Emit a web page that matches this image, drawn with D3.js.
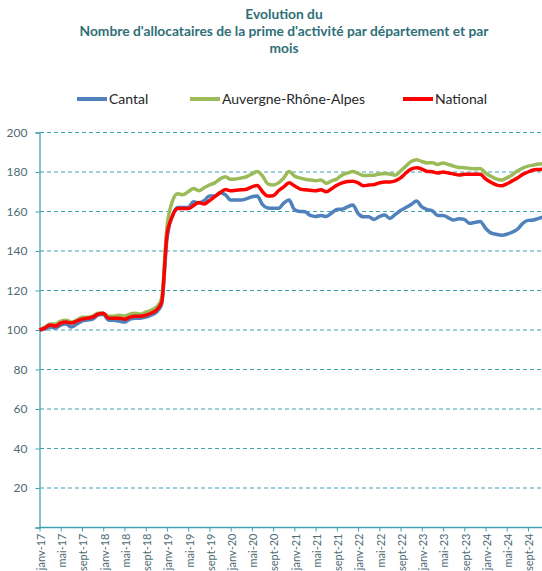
<!DOCTYPE html>
<html>
<head>
<meta charset="utf-8">
<script src="https://d3js.org/d3.v7.min.js"></script>
<style>
  body { margin: 0; background: #fff; }
  text { font-family: Lato, "Open Sans", sans-serif; }
</style>
</head>
<body>
<script>
  // months janv-17 .. déc-24
  var moisNoms = ["janv", "févr", "mars", "avr", "mai", "juin", "juil", "août", "sept", "oct", "nov", "déc"];
  var months = [];
  for (var a = 17; a <= 24; a++) {
    for (var m = 0; m < 12; m++) months.push(moisNoms[m] + "-" + a);
  }

  var cantal = [100, 100.5, 101.5, 101, 102.5, 103, 101.5, 103, 104.5, 105, 105.5, 107.5,
    108, 105, 105, 104.5, 104, 105.5, 106, 106, 106.5, 107.5, 109, 113,
    146, 157.5, 162, 162, 162, 165, 164.3, 165.5, 167.8, 167.8, 169.5, 168.5,
    165.8, 165.8, 165.8, 166.5, 167.5, 167.8, 163.5, 161.8, 161.6, 161.6, 164.3, 165.8,
    161, 160, 159.9, 158, 157.5, 158, 157.5, 159.2, 161, 161.2, 162.3, 163.3,
    159, 157.3, 157.4, 156, 157.4, 158.2, 156.5, 158.5, 160.5, 162, 163.5, 165.3,
    162.3, 161, 160.3, 158, 158, 156.8, 155.7, 156.3, 156, 154, 154.5, 155,
    151.5, 149.2, 148.5, 148, 148.5, 149.5, 151, 154, 155.5, 155.7, 156.5, 157.3];

  var ara = [100, 101.5, 103, 103, 104.5, 105, 104, 105, 106.5, 106.5, 107, 108.5,
    108.5, 107, 107, 107.5, 107, 108, 108.5, 108, 109, 110, 111.5, 116,
    152, 165, 169, 168.5, 170, 171.7, 170.5, 172, 173.4, 174.5, 176.5, 177.6,
    176.3, 176.5, 177, 177.6, 179, 180.3, 178, 174, 173.4, 174.5, 177, 180.2,
    178, 177, 176.3, 176, 175.6, 175.9, 174.3, 175.5, 176.5, 178.5, 179.5, 180.2,
    179.3, 178.2, 178.3, 178.4, 179, 179.3, 179, 178.4, 180.5, 183, 185.3, 186.2,
    185.3, 184.6, 184.7, 183.8, 184.6, 183.8, 183, 182.3, 182.2, 181.8, 181.6, 181.8,
    179.5, 177.8, 176.5, 175.9, 177, 178.5, 180.5, 182, 183, 183.5, 184, 184.2];

  var national = [100, 101, 102.5, 102, 103.5, 104, 103.5, 104.5, 105.5, 106, 106.5, 108,
    108.5, 106, 106, 106, 105.5, 106.5, 107, 107, 107.5, 108.5, 110, 114,
    148, 157.5, 161.5, 161.5, 161.5, 163, 164.5, 163.8, 165.5, 167.5, 169.5, 171.2,
    170.5, 170.8, 171, 171.3, 172.5, 173.2, 170, 167.8, 168, 170.5, 172.5, 174.5,
    173, 171.5, 171, 170.8, 170.5, 171, 170, 171.5, 173.3, 174.5, 175.2, 175.3,
    174.5, 173, 173.4, 173.6, 174.5, 175, 175, 175.5, 177, 179.5, 181.5, 182.2,
    181.5, 180.3, 180.1, 179.5, 180, 179.5, 179, 178.5, 178.8, 178.8, 178.8, 178.8,
    176.5, 174.8, 173.5, 173, 174, 175.5, 177, 178.8, 180, 181, 181.3, 181.5];

  var seriesNames = ["Cantal", "Auvergne-Rhône-Alpes", "National"];
  var seriesColors = ["#4F81BD", "#9BBB59", "#FF0000"];
  var yTicks = [20, 40, 60, 80, 100, 120, 140, 160, 180, 200];

  var W = 542, H = 571;
  var svg = d3.select("body").append("svg")
    .attr("width", W)
    .attr("height", H);

  var x = d3.scaleLinear().domain([0, months.length - 1]).range([39.5, 39.5 + 5.31 * 95]);
  var y = d3.scaleLinear().domain([0, 200]).range([527.5, 132.5]);

  // title
  var title = svg.append("text")
    .attr("text-anchor", "middle")
    .style("font-weight", "bold")
    .style("font-size", "13.8px")
    .style("fill", "#2F6F78");
  ["Evolution du", "Nombre d'allocataires de la prime d'activité par département et par", "mois"]
    .forEach(function(t, i) {
      title.append("tspan").attr("x", 284).attr("y", 19 + i * 17.2).text(t);
    });

  // grid
  svg.append("g")
    .selectAll("line")
    .data(yTicks)
    .enter()
    .append("line")
    .attr("x1", 40).attr("x2", W)
    .attr("y1", function(d){ return y(d); })
    .attr("y2", function(d){ return y(d); })
    .style("stroke", "#3FA3AF")
    .style("stroke-width", 1.2)
    .style("stroke-dasharray", "4,3");

  // y axis
  var yAxis = svg.append("g")
    .attr("transform", "translate(39.5,0)")
    .call(d3.axisLeft(y).tickValues([0].concat(yTicks)).tickSize(4).tickPadding(8)
      .tickFormat(function(d){ return d === 0 ? "" : d; }));
  yAxis.select(".domain").style("stroke", "#3FA3AF").style("stroke-width", 1.3);
  yAxis.selectAll(".tick line").style("stroke", "#3FA3AF");
  yAxis.selectAll("text").style("font-size", "12px").style("fill", "#4E6B75")
    .style("font-family", "Lato, sans-serif");

  // x axis
  var labIdx = d3.range(0, months.length, 4);
  var xAxis = svg.append("g")
    .attr("transform", "translate(0,527.5)")
    .call(d3.axisBottom(x).tickValues(labIdx).tickSize(4)
      .tickFormat(function(i){ return months[i]; }));
  xAxis.select(".domain").attr("d", "M39.5,0H" + W).style("stroke", "#3FA3AF").style("stroke-width", 1.3);
  xAxis.selectAll(".tick line").style("stroke", "#3FA3AF");
  xAxis.selectAll("text")
    .attr("transform", "rotate(-90)")
    .attr("x", -6)
    .attr("y", 1)
    .attr("dy", "0.35em")
    .attr("text-anchor", "end")
    .style("font-size", "11px")
    .style("fill", "#4E6B75")
    .style("font-family", "Lato, sans-serif");

  // lines
  var allSeries = [cantal, ara, national];
  var line = d3.line()
    .x(function(d, i){ return x(i); })
    .y(function(d){ return y(d); })
    .curve(d3.curveMonotoneX);

  svg.append("g")
    .selectAll("path")
    .data(allSeries)
    .enter()
    .append("path")
    .attr("d", line)
    .style("fill", "none")
    .style("stroke", function(d, i){ return seriesColors[i]; })
    .style("stroke-width", 3.5)
    .style("stroke-linejoin", "round");

  // legend
  var legX = [77, 190, 403];
  var leg = svg.append("g")
    .selectAll("g")
    .data(seriesNames)
    .enter()
    .append("g")
    .attr("transform", function(d, i){ return "translate(" + legX[i] + ",99)"; });
  leg.append("line")
    .attr("x1", 0).attr("x2", 30)
    .style("stroke", function(d, i){ return seriesColors[i]; })
    .style("stroke-width", 4);
  leg.append("text")
    .attr("x", 32)
    .attr("dy", "0.35em")
    .style("font-size", "14px")
    .style("fill", "#262626")
    .text(function(d){ return d; });
</script>
</body>
</html>
